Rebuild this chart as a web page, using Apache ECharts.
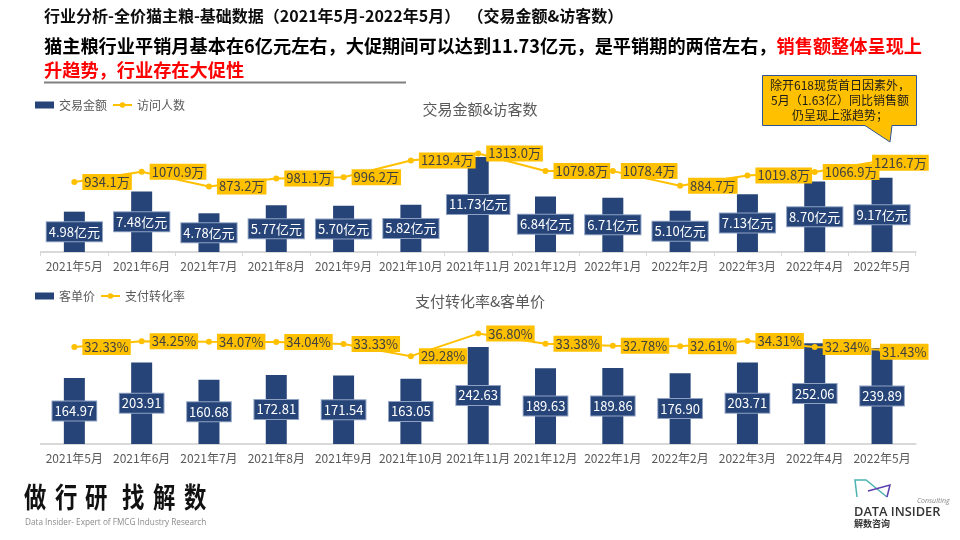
<!DOCTYPE html>
<html><head><meta charset="utf-8">
<script src="https://cdn.jsdelivr.net/npm/echarts@6/dist/echarts.min.js"></script>
<style>html,body{margin:0;padding:0;background:#fff}#c{width:960px;height:540px}</style>
</head><body><div id="c"></div>
<script>
// ---- data ----
const months = ['2021年5月','2021年6月','2021年7月','2021年8月','2021年9月','2021年10月','2021年11月','2021年12月','2022年1月','2022年2月','2022年3月','2022年4月','2022年5月'];
const salesAmount = [4.98,7.48,4.78,5.77,5.70,5.82,11.73,6.84,6.71,5.10,7.13,8.70,9.17];      // 亿元
const visitors = [934.1,1070.9,873.2,981.1,996.2,1219.4,1313.0,1079.8,1078.4,884.7,1019.8,1066.9,1216.7]; // 万
const unitPrice = [164.97,203.91,160.68,172.81,171.54,163.05,242.63,189.63,189.86,176.90,203.71,252.06,239.89];
const conversion = [32.33,34.25,34.07,34.04,33.33,29.28,36.80,33.38,32.78,32.61,34.31,32.34,31.43]; // %

const FONT = '"Noto Sans CJK SC", "Noto Sans", sans-serif';
const BLUE = '#264478', GOLD = '#FFC000', GRAY = '#595959', AXIS = '#D9D9D9';

const chart = echarts.init(document.getElementById('c'), null, {renderer:'canvas'});

function barLabel(suffix){
  return {show:true, position:'inside', fontFamily:FONT, fontSize:13, color:'#fff',
    backgroundColor:BLUE, borderColor:'#8FA2C4', borderWidth:1, padding:[2,2], lineHeight:15,
    formatter:p => p.value.toFixed(2) + suffix};
}
function lineLabel(fmt){
  return {show:true, position:'right', distance:5, fontFamily:FONT, fontSize:13, color:'#404040',
    backgroundColor:GOLD, padding:[1,2], lineHeight:14, formatter:fmt};
}
const xAxisBase = idx => ({
  type:'category', gridIndex:idx, data:months, boundaryGap:true,
  axisLine:{lineStyle:{color:AXIS, width:2}},
  axisTick:{show: idx===0, length:4, lineStyle:{color:AXIS, width:1}},
  axisLabel:{interval:0, color:GRAY, fontSize:12, fontFamily:FONT, margin:8}
});
const hiddenY = (idx, max) => ({type:'value', gridIndex:idx, min:0, max:max, show:false, splitLine:{show:false}});

const lastIdx = months.length - 1;
const visitorData = visitors.map((v,i) => i===lastIdx ? {value:v, label:{offset:[-18,2]}} : v);
const convData = conversion.map((v,i) => i===lastIdx ? {value:v, label:{offset:[-10,2]}} : v);
const valOf = p => (typeof p.value === 'number' ? p.value : p.data.value);

const option = {
  animation:false,
  textStyle:{fontFamily:FONT},
  title:[
    {text:'交易金额&访客数', left:'center', top:102, padding:0, textStyle:{fontSize:15, fontWeight:'normal', color:GRAY, fontFamily:FONT}},
    {text:'支付转化率&客单价', left:'center', top:294, padding:0, textStyle:{fontSize:15, fontWeight:'normal', color:GRAY, fontFamily:FONT}}
  ],
  legend:[
    {data:[{name:'交易金额', icon:'rect'},'访问人数'], left:35, top:99, padding:0, itemWidth:19, itemHeight:7, itemGap:5,
     textStyle:{fontSize:12, color:GRAY, fontFamily:FONT}},
    {data:[{name:'客单价', icon:'rect'},'支付转化率'], left:35, top:290, padding:0, itemWidth:19, itemHeight:7, itemGap:5,
     textStyle:{fontSize:12, color:GRAY, fontFamily:FONT}}
  ],
  grid:[
    {left:40.7, right:44.3, top:90, height:162},
    {left:40.7, right:44.3, top:300, height:144}
  ],
  xAxis:[xAxisBase(0), xAxisBase(1)],
  yAxis:[hiddenY(0,20), hiddenY(0,2160), hiddenY(1,360), hiddenY(1,48)],
  series:[
    {name:'交易金额', type:'bar', xAxisIndex:0, yAxisIndex:0, data:salesAmount, barWidth:21,
     itemStyle:{color:BLUE}, label:barLabel('亿元'), z:2},
    {name:'访问人数', type:'line', xAxisIndex:0, yAxisIndex:1, data:visitorData,
     itemStyle:{color:GOLD}, lineStyle:{color:GOLD, width:2}, symbol:'circle', symbolSize:6,
     label:lineLabel(p => valOf(p).toFixed(1)+'万'), z:3},
    {name:'客单价', type:'bar', xAxisIndex:1, yAxisIndex:2, data:unitPrice, barWidth:21,
     itemStyle:{color:BLUE}, label:barLabel(''), z:2},
    {name:'支付转化率', type:'line', xAxisIndex:1, yAxisIndex:3, data:convData,
     itemStyle:{color:GOLD}, lineStyle:{color:GOLD, width:2}, symbol:'circle', symbolSize:6,
     label:lineLabel(p => valOf(p).toFixed(2)+'%'), z:3}
  ],
  graphic:[
    {type:'text', left:44, top:8, style:{text:'行业分析-全价猫主粮-基础数据（2021年5月-2022年5月）  （交易金额&访客数）',
      font:'bold 16px '+FONT, fill:'#0d0d0d'}},
    {type:'text', left:44, top:37, style:{
      text:'{a|猫主粮行业平销月基本在6亿元左右，大促期间可以达到11.73亿元，是平销期的两倍左右，}{b|销售额整体呈现上}',
      rich:{a:{font:'bold 18.2px '+FONT, fill:'#000'}, b:{font:'bold 18.2px '+FONT, fill:'#FF0000'}}}},
    {type:'text', left:44, top:61, style:{text:'升趋势，行业存在大促性', font:'bold 18.2px '+FONT, fill:'#FF0000'}},
    {type:'line', shape:{x1:44, y1:82.5, x2:406, y2:82.5}, style:{stroke:'#808080', lineWidth:2}},
    // callout
    {type:'polygon', shape:{points:[[762.5,75.5],[916.5,75.5],[916.5,125.5],[892,125.5],[890,142],[865,125.5],[762.5,125.5]]},
     style:{fill:GOLD, stroke:'#2F5597', lineWidth:1}},
    {type:'text', x:840, y:85, style:{text:'除开618现货首日因素外，', font:'12px '+FONT, fill:'#1a1a1a', align:'center', verticalAlign:'middle'}},
    {type:'text', x:840, y:100.5, style:{text:'5月（1.63亿）同比销售额', font:'12px '+FONT, fill:'#1a1a1a', align:'center', verticalAlign:'middle'}},
    {type:'text', x:840, y:115.5, style:{text:'仍呈现上涨趋势；', font:'12px '+FONT, fill:'#1a1a1a', align:'center', verticalAlign:'middle'}},
    // bottom-left logo
    ...['做','行','研','找','解','数'].map((ch,i) => ({type:'text', x:[24,55,85,122,153,184][i], y:497, scaleX:0.8,
      style:{text:ch, font:'bold 28px '+FONT, fill:'#111', verticalAlign:'middle'}})),
    {type:'text', x:25, y:523, style:{text:'Data Insider- Expert of FMCG Industry Research', font:'8.2px "Open Sans"', fill:'#8a8a8a', verticalAlign:'middle'}},
    // bottom-right logo
    {type:'polyline', shape:{points:[[857,497],[855,480],[866,480],[887,497]]}, style:{stroke:'#4BB3B0', lineWidth:1.5, fill:null}},
    {type:'polyline', shape:{points:[[868,491],[890,485],[887,497]]}, style:{stroke:'#5B3FB0', lineWidth:1.5, fill:null}},
    {type:'text', x:917, y:501, style:{text:'Consulting', font:'italic 7px "Open Sans"', fill:'#888', verticalAlign:'middle'}},
    {type:'text', x:854, y:512, style:{text:'DATA INSIDER', font:'600 12.8px "Open Sans"', fill:'#333', verticalAlign:'middle'}},
    {type:'text', x:854, y:524, style:{text:'解数咨询', font:'bold 9px '+FONT, fill:'#333', verticalAlign:'middle'}}
  ]
};
chart.setOption(option);
</script>
</body></html>
